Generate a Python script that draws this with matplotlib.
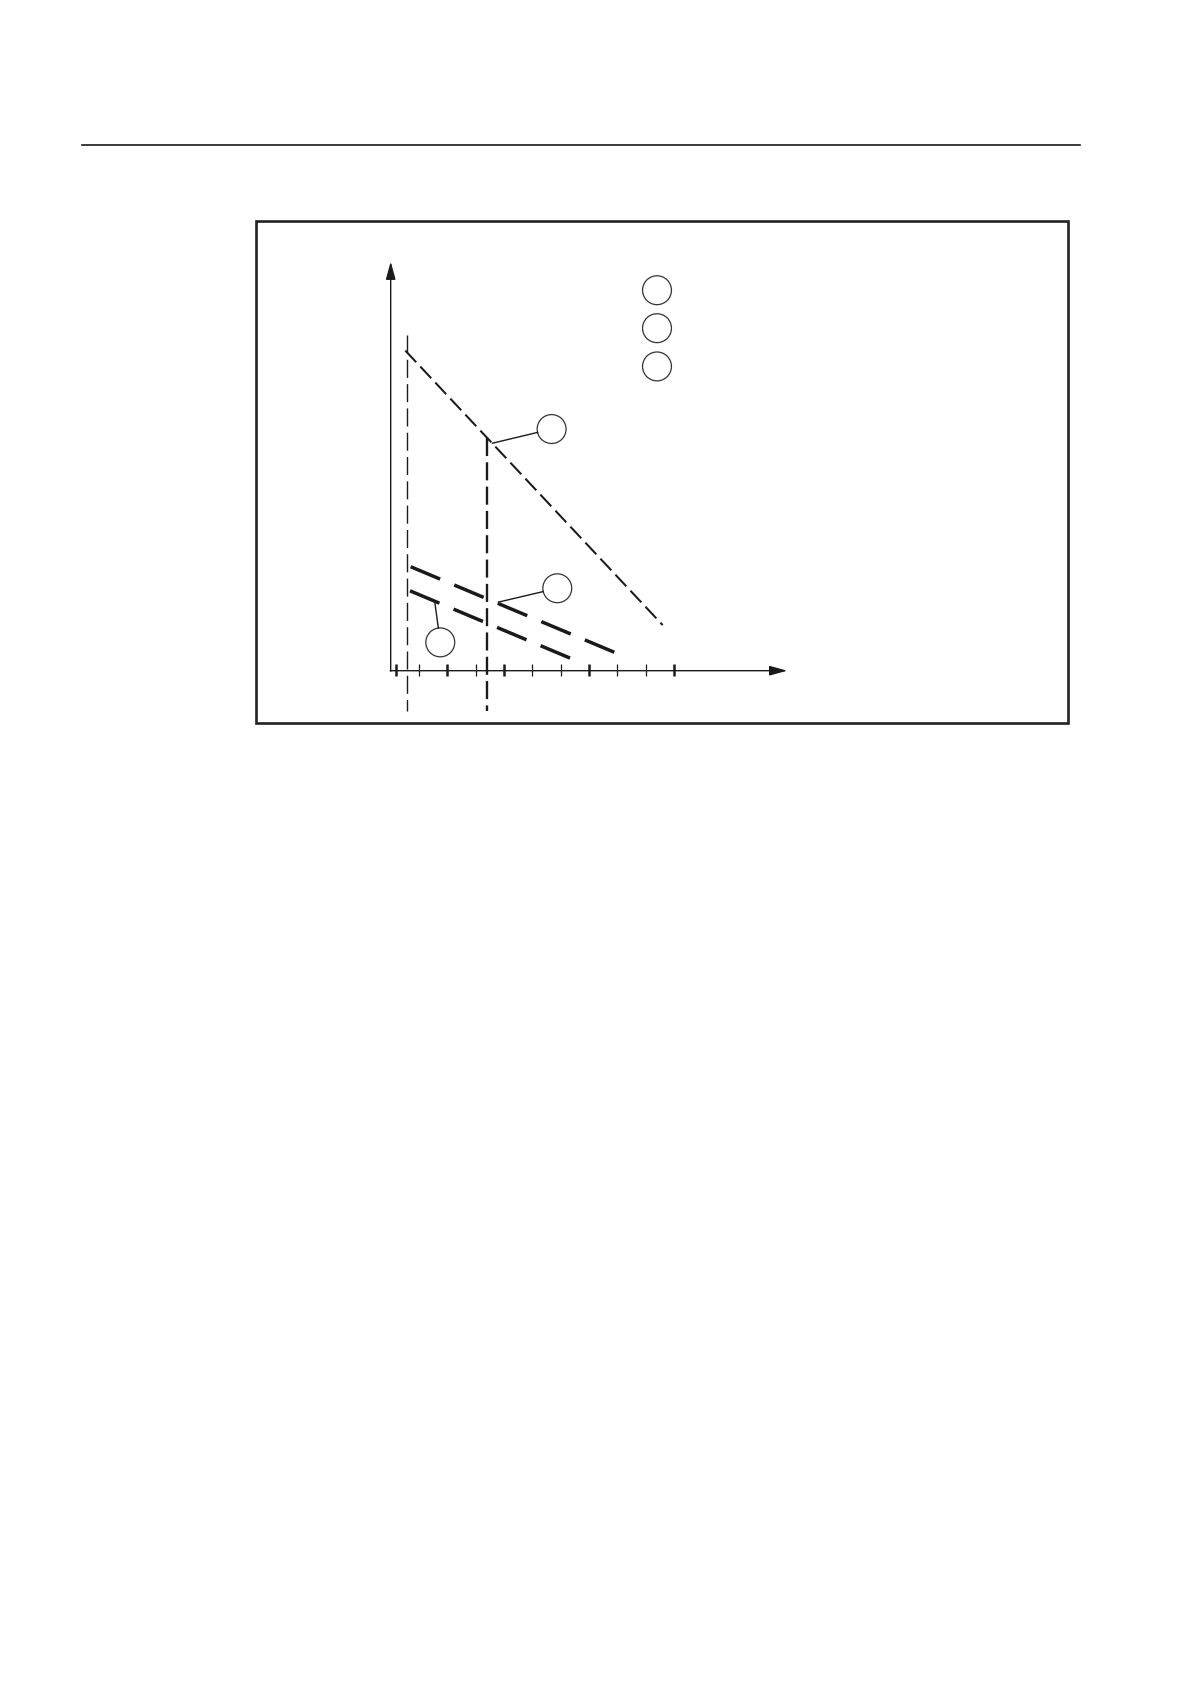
import numpy as np
import matplotlib
matplotlib.use("Agg")
import matplotlib.pyplot as plt
from matplotlib.patches import Circle, Rectangle

# diagram units: 1 unit = one tick step on the x axis, origin where the axes cross
upper_x = [0.515, 9.60]
upper_y = [11.30, 1.61]

line_a_x = [0.706, 7.98]
line_a_y = [3.67, 0.614]

line_b_x = [0.681, 6.39]
line_b_y = [2.82, 0.42]

# vertical markers
vline_left_x = 0.586
vline_left_y = [11.84, -1.41]
vline_right_x = 3.41
vline_right_y = [8.21, -1.41]

# x ticks
major_ticks = [0.18, 2, 4, 7, 10]
minor_ticks = [1, 3, 5, 6, 8, 9]

x_axis_end = 14.0
y_axis_end = 14.44

# callout circles: centre and point on the curve the leader starts at
callout_centres = [(5.68, 8.53), (5.88, 2.91), (1.75, 1.00)]
callout_starts = [(3.59, 8.03), (3.80, 2.42), (1.56, 2.40)]
legend_centres = [(9.40, 13.43), (9.40, 12.09), (9.40, 10.74)]
circle_r = 0.51

# frame of the figure box
frame_x = [-4.765, 23.90]
frame_y = [-1.846, 15.86]

# rule across the page
page_rule_x = [-10.89, 24.34]
page_rule_y = 18.54

unit = 28.33  # pixels per unit
W, H = 1190, 1684
ox, oy = 390.7, 670.7

plt.rcParams['lines.scale_dashes'] = False
fig = plt.figure(figsize=(W / 100, H / 100), dpi=100)
ax = fig.add_axes([0, 0, 1, 1])
ax.set_xlim(-ox / unit, (W - ox) / unit)
ax.set_ylim(-(H - oy) / unit, oy / unit)
ax.axis('off')

ink = '#1a1a1a'

# page rule and frame
ax.plot(page_rule_x, [page_rule_y, page_rule_y], color=ink, lw=1.2)
ax.add_patch(Rectangle((frame_x[0], frame_y[0]), frame_x[1] - frame_x[0],
                       frame_y[1] - frame_y[0], fill=False, ec='#222222', lw=1.9))

# axes with arrow heads
arrow = dict(arrowstyle='-|>,head_length=0.8,head_width=0.22', mutation_scale=13.5,
             color=ink, lw=1.0, shrinkA=0, shrinkB=0)
ax.annotate('', xy=(x_axis_end, 0), xytext=(-0.02, 0), arrowprops=arrow)
ax.annotate('', xy=(0, y_axis_end), xytext=(0, -0.02), arrowprops=arrow)

# ticks
for t in major_ticks:
    ax.plot([t, t], [-0.18, 0.24], color=ink, lw=1.8, solid_capstyle='butt')
for t in minor_ticks:
    ax.plot([t, t], [-0.18, 0.24], color=ink, lw=0.9, solid_capstyle='butt')

# vertical reference lines
ax.plot([vline_left_x, vline_left_x], vline_left_y, color=ink, lw=1.0,
        dashes=(13, 4.5))
ax.plot([vline_right_x, vline_right_x], vline_right_y, color=ink, lw=1.7,
        dashes=(13, 4.5))

# curves
ax.plot(upper_x, upper_y, color=ink, lw=1.45, dashes=(11.5, 4.3))
ax.plot(line_a_x, line_a_y, color=ink, lw=2.5, dashes=(23, 11), dash_capstyle='butt')
ax.plot(line_b_x, line_b_y, color=ink, lw=2.5, dashes=(23, 11), dash_capstyle='butt')

# callouts
for (cx, cy), (sx, sy) in zip(callout_centres, callout_starts):
    d = np.array([sx - cx, sy - cy])
    e = np.array([cx, cy]) + d / np.hypot(*d) * circle_r
    ax.plot([sx, e[0]], [sy, e[1]], color=ink, lw=1.0)
    ax.add_patch(Circle((cx, cy), circle_r, fill=False, ec='#333333', lw=0.9))

for cx, cy in legend_centres:
    ax.add_patch(Circle((cx, cy), circle_r, fill=False, ec='#333333', lw=0.9))

fig.savefig('out.png', dpi=100, facecolor='white')
